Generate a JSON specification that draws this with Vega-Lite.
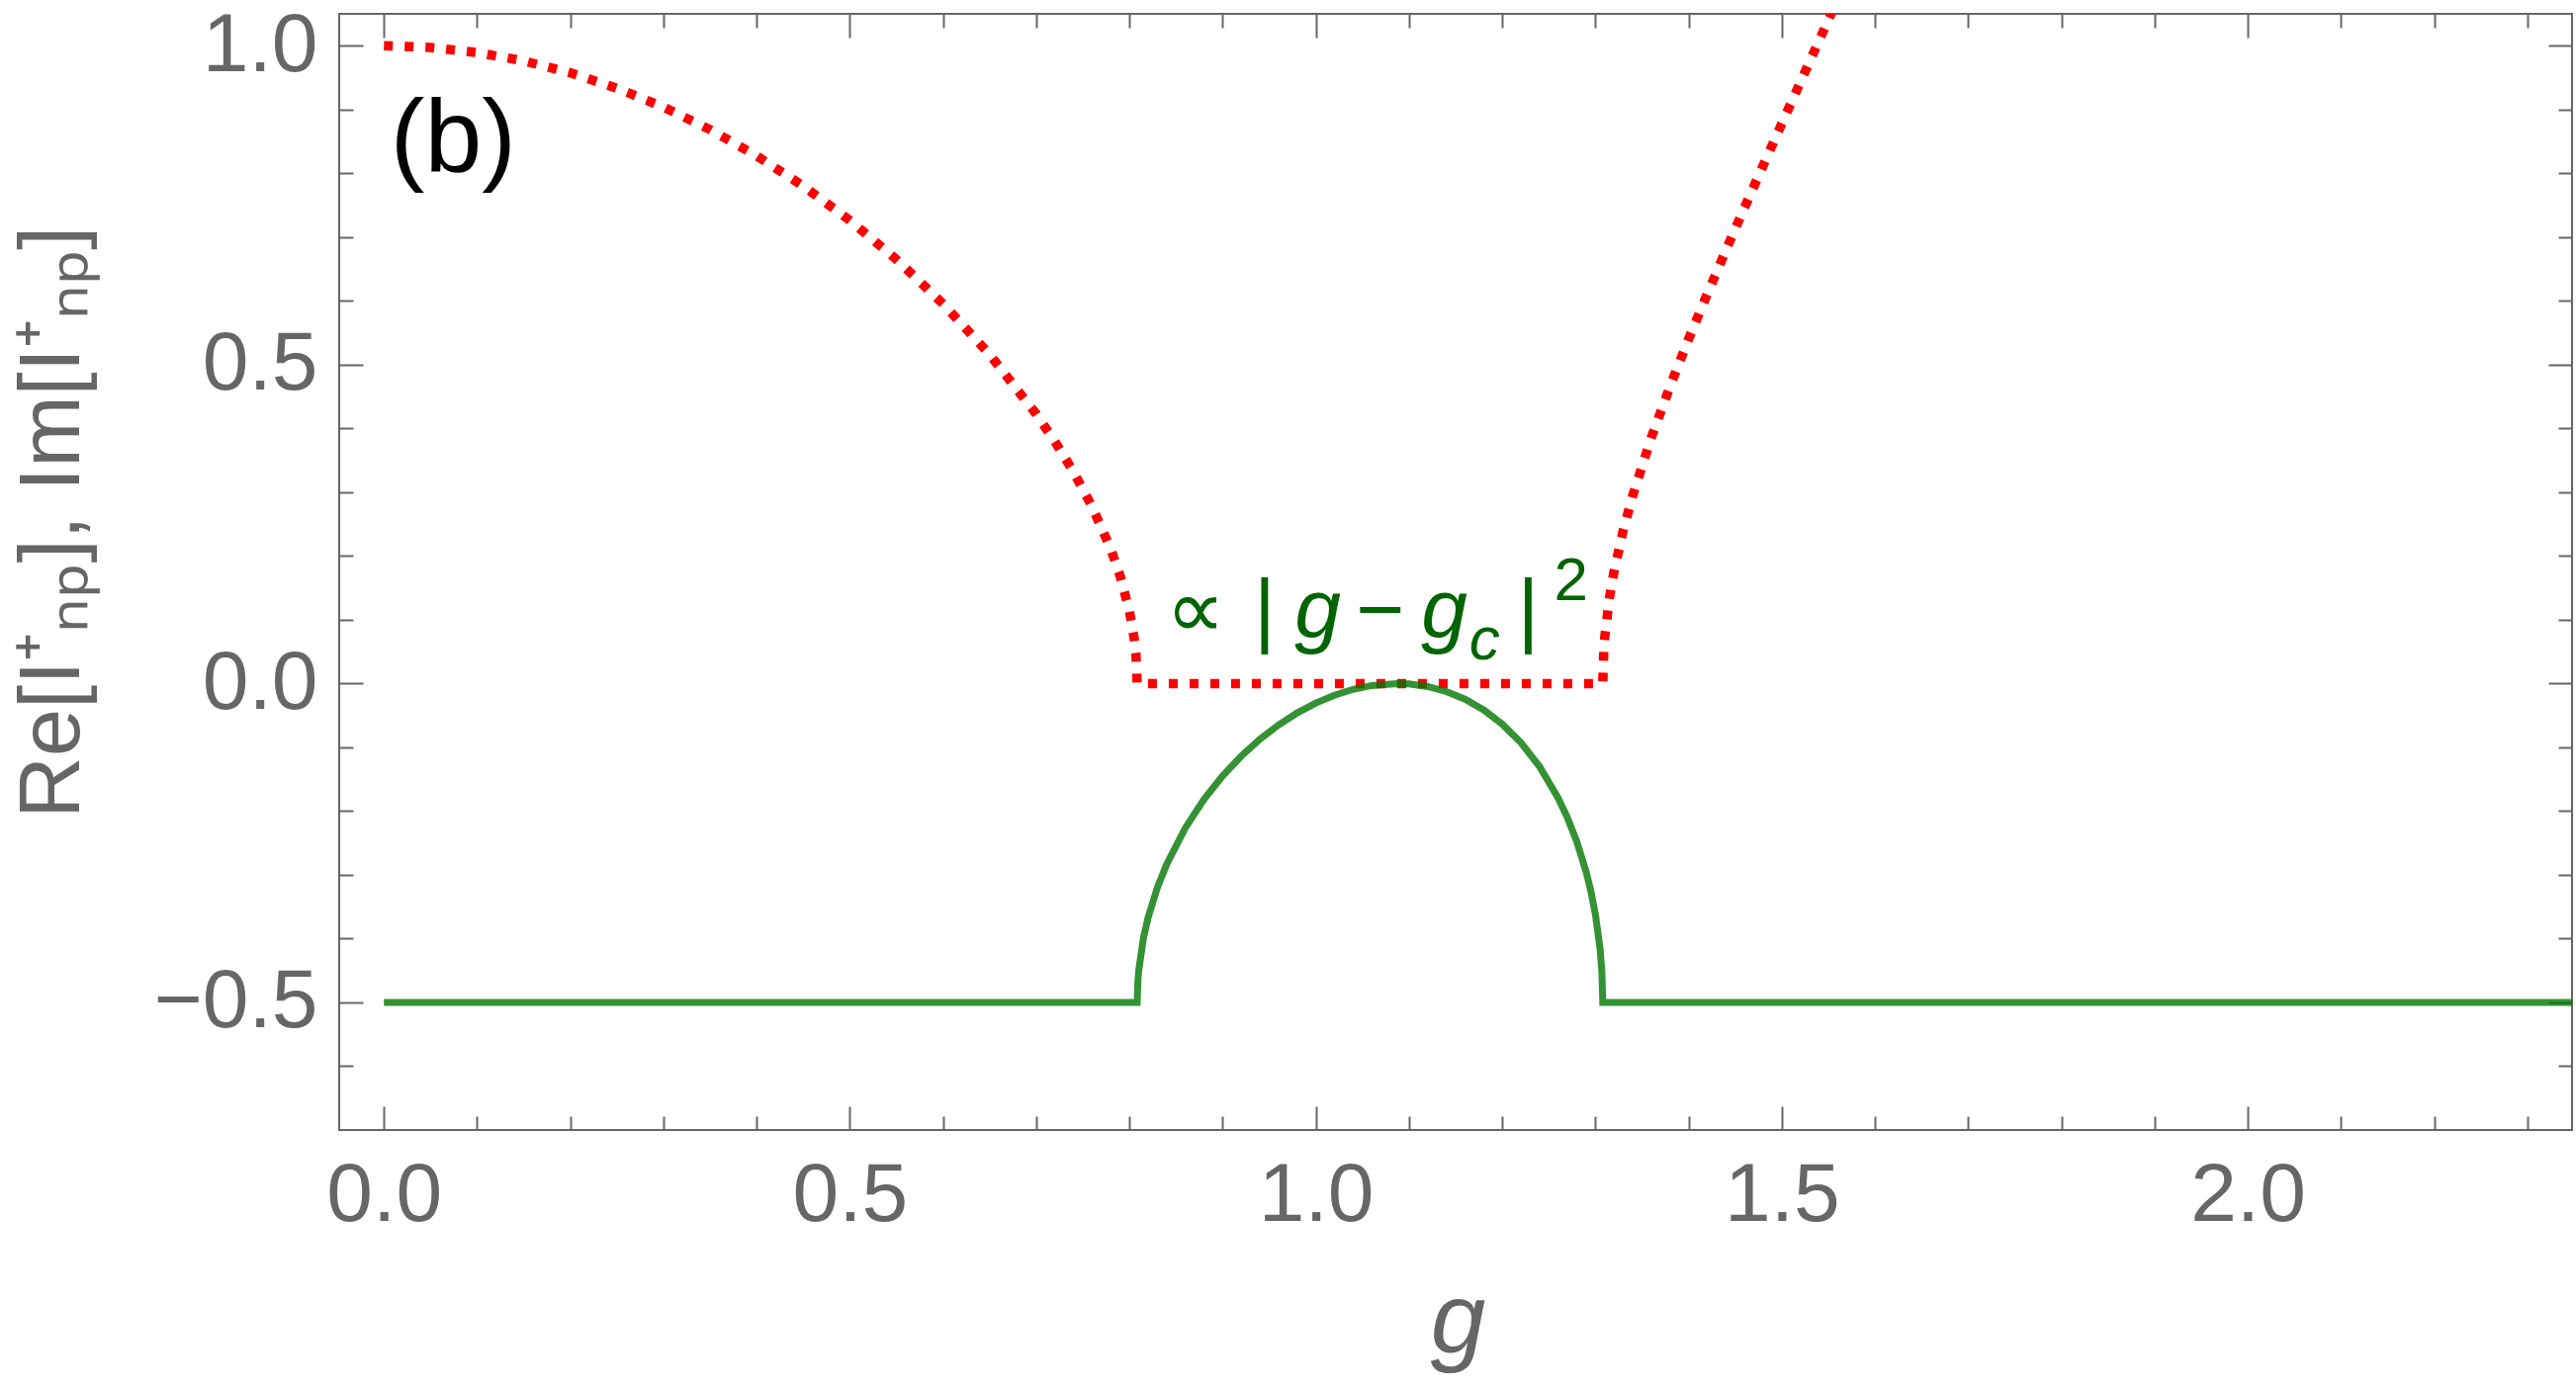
{
  "$schema": "https://vega.github.io/schema/vega-lite/v6.json",
  "width": 2258,
  "height": 1129,
  "autosize": {"type": "none"},
  "padding": {"left": 343, "top": 14, "right": 4, "bottom": 263},
  "background": "white",
  "config": {
    "view": {"stroke": "#666666", "strokeWidth": 2},
    "axis": {"grid": false, "domain": false, "tickColor": "#666666", "tickWidth": 2, "labelColor": "#666666", "titleColor": "#666666"}
  },
  "datasets": {
    "im": [
      {"g": 0, "v": 1.0}, {"g": 0.05, "v": 0.9973}, {"g": 0.1, "v": 0.9894}, {"g": 0.15, "v": 0.9762},
      {"g": 0.2, "v": 0.9575}, {"g": 0.25, "v": 0.9334}, {"g": 0.3, "v": 0.9038}, {"g": 0.35, "v": 0.8685},
      {"g": 0.4, "v": 0.8273}, {"g": 0.45, "v": 0.78}, {"g": 0.5, "v": 0.7261}, {"g": 0.55, "v": 0.6649},
      {"g": 0.6, "v": 0.5954}, {"g": 0.65, "v": 0.5159}, {"g": 0.7, "v": 0.4224}, {"g": 0.72, "v": 0.3795},
      {"g": 0.74, "v": 0.3318}, {"g": 0.76, "v": 0.2772}, {"g": 0.78, "v": 0.2106}, {"g": 0.79, "v": 0.1688},
      {"g": 0.8, "v": 0.1133}, {"g": 0.805, "v": 0.0715}, {"g": 0.807, "v": 0.0451}, {"g": 0.8083, "v": 0},
      {"g": 1.3079, "v": 0}, {"g": 1.309, "v": 0.0523}, {"g": 1.31, "v": 0.0723}, {"g": 1.315, "v": 0.1339},
      {"g": 1.32, "v": 0.176}, {"g": 1.33, "v": 0.2412}, {"g": 1.34, "v": 0.2947}, {"g": 1.36, "v": 0.3857},
      {"g": 1.38, "v": 0.4657}, {"g": 1.4, "v": 0.54}, {"g": 1.42, "v": 0.6107}, {"g": 1.44, "v": 0.6792},
      {"g": 1.46, "v": 0.7462}, {"g": 1.48, "v": 0.8123}, {"g": 1.5, "v": 0.8778}, {"g": 1.52, "v": 0.943},
      {"g": 1.54, "v": 1.008}, {"g": 1.56, "v": 1.0731}
    ],
    "re": [
      {"g": 0, "v": -0.5}, {"g": 0.8083, "v": -0.5}, {"g": 0.809, "v": -0.468}, {"g": 0.81, "v": -0.4495},
      {"g": 0.815, "v": -0.3993}, {"g": 0.82, "v": -0.3671}, {"g": 0.83, "v": -0.3199}, {"g": 0.84, "v": -0.2833},
      {"g": 0.86, "v": -0.2263}, {"g": 0.88, "v": -0.1816}, {"g": 0.9, "v": -0.1448}, {"g": 0.92, "v": -0.1137},
      {"g": 0.94, "v": -0.0873}, {"g": 0.96, "v": -0.0649}, {"g": 0.98, "v": -0.0461}, {"g": 1.0, "v": -0.0306},
      {"g": 1.02, "v": -0.0183}, {"g": 1.04, "v": -0.0091}, {"g": 1.06, "v": -0.0031}, {"g": 1.0872, "v": 0},
      {"g": 1.1, "v": -0.0007}, {"g": 1.12, "v": -0.0047}, {"g": 1.14, "v": -0.0125}, {"g": 1.16, "v": -0.0246},
      {"g": 1.18, "v": -0.0413}, {"g": 1.2, "v": -0.0636}, {"g": 1.22, "v": -0.0926}, {"g": 1.24, "v": -0.13},
      {"g": 1.26, "v": -0.1794}, {"g": 1.27, "v": -0.2104}, {"g": 1.28, "v": -0.2477}, {"g": 1.29, "v": -0.2949},
      {"g": 1.295, "v": -0.3246}, {"g": 1.3, "v": -0.3618}, {"g": 1.305, "v": -0.4156}, {"g": 1.307, "v": -0.4529},
      {"g": 1.3079, "v": -0.5}, {"g": 2.35, "v": -0.5}
    ],
    "panel": [{"g": 0.007, "v": 0.8035, "t": "(b)"}],
    "annUp": [
      {"g": 0.871, "v": 0.072, "t": "∝"}, {"g": 0.945, "v": 0.072, "t": "|"},
      {"g": 1.069, "v": 0.072, "t": "−"}, {"g": 1.228, "v": 0.072, "t": "|"}
    ],
    "annIt": [{"g": 1.002, "v": 0.072, "t": "g"}, {"g": 1.138, "v": 0.072, "t": "g"}],
    "annSub": [{"g": 1.181, "v": 0.038, "t": "c"}],
    "annSup": [{"g": 1.274, "v": 0.131, "t": "2"}]
  },
  "resolve": {"axis": {"x": "independent", "y": "independent"}},
  "layer": [
    {
      "data": {"name": "im"},
      "mark": {"type": "line", "color": "#ff0000", "strokeWidth": 9.5, "strokeDash": [9, 12], "strokeCap": "butt", "clip": true},
      "encoding": {
        "x": {"field": "g", "type": "quantitative", "scale": {"domain": [-0.048, 2.348], "nice": false, "zero": false},
          "axis": {"orient": "bottom", "values": [0, 0.5, 1, 1.5, 2], "format": ".1f", "ticks": false, "labelFont": "Liberation Sans", "labelFontSize": 84, "labelPadding": 25, "labelFlush": false, "labelOverlap": false,
            "title": "g", "titleFont": "Liberation Sans", "titleFontStyle": "italic", "titleFontWeight": "normal", "titleFontSize": 100, "titleX": 1131, "titleY": 224, "titleAlign": "center", "titleBaseline": "alphabetic"}},
        "y": {"field": "v", "type": "quantitative", "scale": {"domain": [-0.7, 1.05], "nice": false, "zero": false},
          "axis": {"orient": "left", "values": [-0.5, 0, 0.5, 1], "format": ".1f", "ticks": false, "labelFont": "Liberation Sans", "labelFontSize": 84, "labelPadding": 22, "labelFlush": false, "labelOverlap": false,
            "title": "Re[I⁺ₙₚ], Im[I⁺ₙₚ]", "titleFont": "Liberation Sans", "titleFontWeight": "normal", "titleFontSize": 87, "titleAngle": -90, "titleX": -264, "titleY": 514, "titleAlign": "center", "titleBaseline": "alphabetic"}}
      }
    },
    {
      "data": {"name": "re"},
      "mark": {"type": "line", "color": "#007700", "opacity": 0.8, "strokeWidth": 7, "clip": true},
      "encoding": {
        "x": {"field": "g", "type": "quantitative", "scale": {"domain": [-0.048, 2.348], "nice": false, "zero": false},
          "axis": {"orient": "bottom", "values": [0, 0.5, 1, 1.5, 2], "labels": false, "tickSize": -24, "title": null}},
        "y": {"field": "v", "type": "quantitative", "scale": {"domain": [-0.7, 1.05], "nice": false, "zero": false},
          "axis": {"orient": "left", "values": [-0.5, 0, 0.5, 1], "labels": false, "tickSize": -24, "title": null}}
      }
    },
    {
      "data": {"name": "panel"},
      "mark": {"type": "text", "font": "Liberation Sans", "fontSize": 104, "color": "#000000", "align": "left", "baseline": "alphabetic"},
      "encoding": {
        "x": {"field": "g", "type": "quantitative", "scale": {"domain": [-0.048, 2.348], "nice": false, "zero": false},
          "axis": {"orient": "bottom", "values": [0.1, 0.2, 0.3, 0.4, 0.6, 0.7, 0.8, 0.9, 1.1, 1.2, 1.3, 1.4, 1.6, 1.7, 1.8, 1.9, 2.1, 2.2, 2.3], "labels": false, "tickSize": -14, "title": null}},
        "y": {"field": "v", "type": "quantitative", "scale": {"domain": [-0.7, 1.05], "nice": false, "zero": false},
          "axis": {"orient": "left", "values": [-0.6, -0.4, -0.3, -0.2, -0.1, 0.1, 0.2, 0.3, 0.4, 0.6, 0.7, 0.8, 0.9], "labels": false, "tickSize": -14, "title": null}},
        "text": {"field": "t"}
      }
    },
    {
      "data": {"name": "annUp"},
      "mark": {"type": "text", "font": "Liberation Sans", "fontSize": 84, "color": "#006400", "align": "center", "baseline": "alphabetic"},
      "encoding": {
        "x": {"field": "g", "type": "quantitative", "scale": {"domain": [-0.048, 2.348], "nice": false, "zero": false},
          "axis": {"orient": "top", "values": [0, 0.5, 1, 1.5, 2], "labels": false, "tickSize": -24, "title": null}},
        "y": {"field": "v", "type": "quantitative", "scale": {"domain": [-0.7, 1.05], "nice": false, "zero": false},
          "axis": {"orient": "right", "values": [-0.5, 0, 0.5, 1], "labels": false, "tickSize": -24, "title": null}},
        "text": {"field": "t"}
      }
    },
    {
      "data": {"name": "annIt"},
      "mark": {"type": "text", "font": "Liberation Sans", "fontSize": 84, "fontStyle": "italic", "color": "#006400", "align": "center", "baseline": "alphabetic"},
      "encoding": {
        "x": {"field": "g", "type": "quantitative", "scale": {"domain": [-0.048, 2.348], "nice": false, "zero": false},
          "axis": {"orient": "top", "values": [0.1, 0.2, 0.3, 0.4, 0.6, 0.7, 0.8, 0.9, 1.1, 1.2, 1.3, 1.4, 1.6, 1.7, 1.8, 1.9, 2.1, 2.2, 2.3], "labels": false, "tickSize": -14, "title": null}},
        "y": {"field": "v", "type": "quantitative", "scale": {"domain": [-0.7, 1.05], "nice": false, "zero": false},
          "axis": {"orient": "right", "values": [-0.6, -0.4, -0.3, -0.2, -0.1, 0.1, 0.2, 0.3, 0.4, 0.6, 0.7, 0.8, 0.9], "labels": false, "tickSize": -14, "title": null}},
        "text": {"field": "t"}
      }
    },
    {
      "data": {"name": "annSub"},
      "mark": {"type": "text", "font": "Liberation Sans", "fontSize": 62, "fontStyle": "italic", "color": "#006400", "align": "center", "baseline": "alphabetic"},
      "encoding": {
        "x": {"field": "g", "type": "quantitative", "scale": {"domain": [-0.048, 2.348], "nice": false, "zero": false}, "axis": null},
        "y": {"field": "v", "type": "quantitative", "scale": {"domain": [-0.7, 1.05], "nice": false, "zero": false}, "axis": null},
        "text": {"field": "t"}
      }
    },
    {
      "data": {"name": "annSup"},
      "mark": {"type": "text", "font": "Liberation Sans", "fontSize": 62, "color": "#006400", "align": "center", "baseline": "alphabetic"},
      "encoding": {
        "x": {"field": "g", "type": "quantitative", "scale": {"domain": [-0.048, 2.348], "nice": false, "zero": false}, "axis": null},
        "y": {"field": "v", "type": "quantitative", "scale": {"domain": [-0.7, 1.05], "nice": false, "zero": false}, "axis": null},
        "text": {"field": "t"}
      }
    }
  ]
}
